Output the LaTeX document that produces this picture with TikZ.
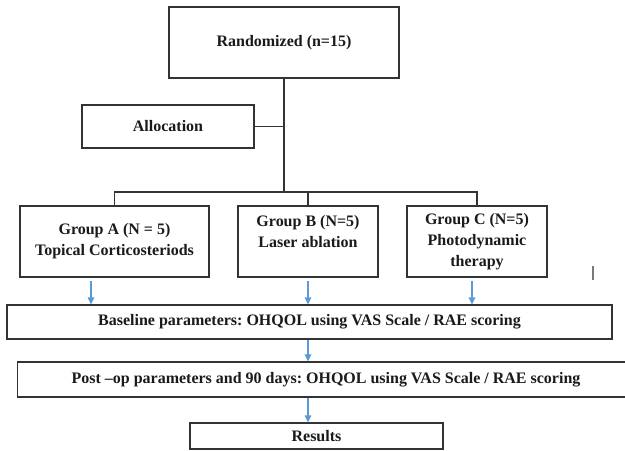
\documentclass[tikz,border=0pt]{standalone}
\usepackage{fontspec}
\setmainfont{Liberation Serif}
\usepackage{xcolor}
\usetikzlibrary{arrows.meta,positioning,calc}
\definecolor{ink}{HTML}{1A1A1A}
\definecolor{edge}{HTML}{333333}
\definecolor{arrowblue}{HTML}{5B9BD5}
\definecolor{tickgray}{HTML}{7A7A7A}
\frenchspacing
\tikzset{
  box/.style={draw=edge,line width=.7pt,fill=white,inner sep=1pt,align=center,
    text=ink,font=\fontsize{9.1}{11.8}\selectfont\bfseries},
  tree/.style={draw=edge,line width=.7pt},
  blueflow/.style={-{Triangle[length=1.4mm,width=1.3mm]},line width=.75pt,color=arrowblue},
}

\begin{document}
\begin{tikzpicture}[x=.2mm,y=-.2mm]
  \useasboundingbox (0,0) rectangle (625,451);
  \node[box,minimum width=46mm,minimum height=14.2mm] (rand) at (284,42.5) {Randomized (n=15)};
  \node[box,minimum width=34.4mm,minimum height=8.6mm] (alloc) at (168,126.5) {Allocation};
  \node[box,minimum width=37.8mm,minimum height=14.2mm] (ga) at (114.5,241.5)
    {Group A (N = 5)\\Topical Corticosteriods};
  \node[box,minimum width=28mm,minimum height=14.2mm] (gb) at (308,241.5)
    {Group B (N=5)\\Laser ablation\\\mbox{}};
  \node[box,minimum width=28mm,minimum height=14.2mm] (gc) at (477,241.5)
    {Group C (N=5)\\Photodynamic\\therapy};
  \node[box,minimum width=121mm,minimum height=6.8mm] (base) at (309.5,322)
    {Baseline parameters: OHQOL using VAS Scale / RAE scoring};
  \node[box,minimum width=123.4mm,minimum height=7mm] (post) at (326,379.5)
    {Post –op parameters and 90 days: OHQOL using VAS Scale / RAE scoring};
  \node[box,minimum width=50.6mm,minimum height=5.2mm] (res) at (316.5,436) {Results};
  \coordinate (split) at (284,192);
  \draw[tree] (rand.south) -- (split);
  \draw[tree] (alloc.east) -- (alloc.east -| split);
  \draw[tree] (ga.north) |- (split) -| (gc.north);
  \draw[tree] (gb.north) -- (gb.north |- split);
  \draw[blueflow,shorten <=2pt] ([xshift=-4.7mm]ga.south) -- ([xshift=-4.7mm]ga.south |- base.north);
  \draw[blueflow,shorten <=2pt] (gb.south) -- (gb.south |- base.north);
  \draw[blueflow,shorten <=2pt] ([xshift=-1mm]gc.south) -- ([xshift=-1mm]gc.south |- base.north);
  \draw[blueflow] (base.south -| gb.south) -- (post.north -| gb.south);
  \draw[blueflow] (post.south -| gb.south) -- (res.north -| gb.south);
  \draw[tickgray,line width=.6pt] (593,266) -- (593,280);
\end{tikzpicture}
\end{document}
